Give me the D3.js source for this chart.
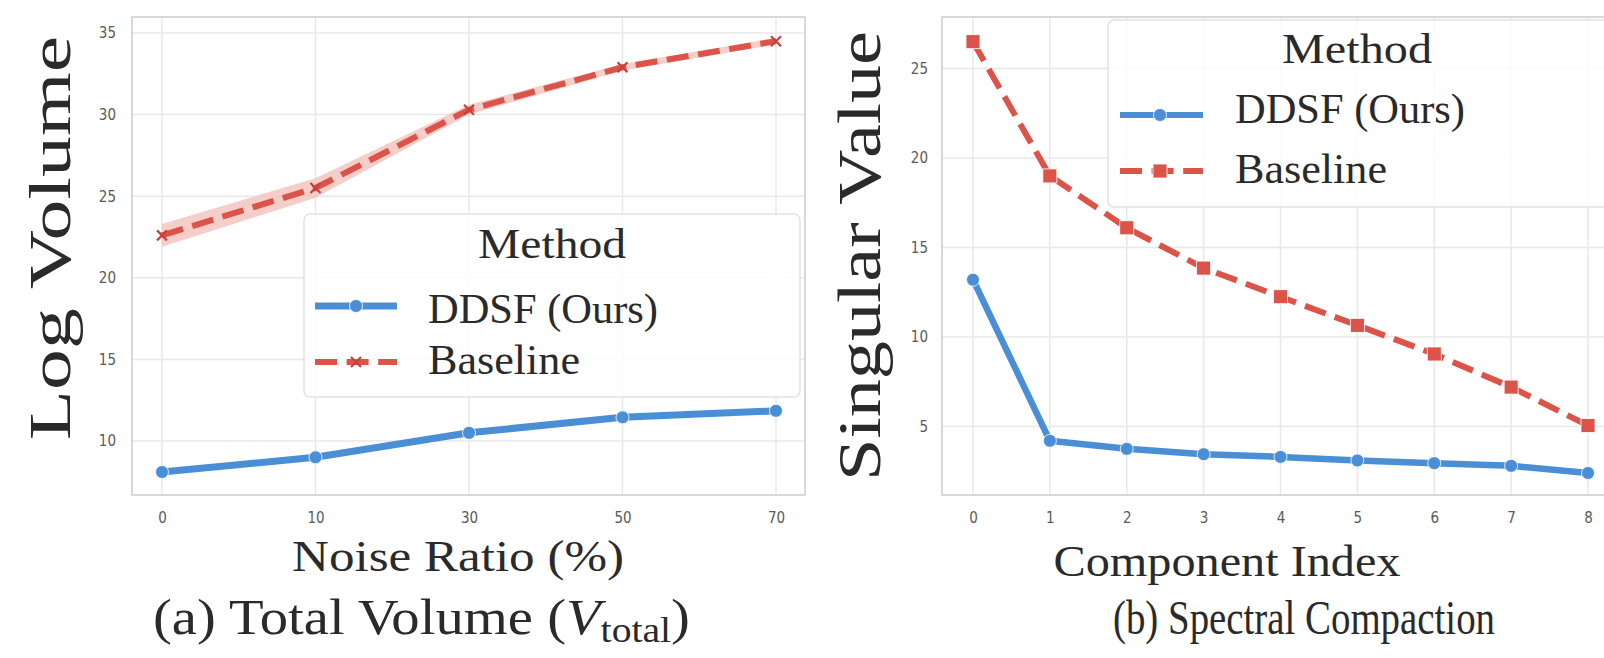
<!DOCTYPE html>
<html><head><meta charset="utf-8">
<script src="https://cdn.jsdelivr.net/npm/d3@7"></script>
<style>
html,body{margin:0;padding:0;background:#fff;}
svg{display:block;}
.tick text{font-family:'Liberation Sans Narrow','DejaVu Sans Condensed','Liberation Sans',sans-serif;fill:#5a5a5a;font-size:15px;}
.serif{font-family:'Liberation Serif','Times New Roman',serif;fill:#2a2a2a;}
</style></head>
<body>
<svg id="c" width="1604" height="658"></svg>
<script>
// ---------- data ----------
const noiseCats = ["0", "10", "30", "50", "70"];
const volDDSF   = [8.1, 9.0, 10.5, 11.45, 11.85];
const volBase   = [22.6, 25.5, 30.3, 32.9, 34.5];
const volBaseLo = [21.9, 24.9, 30.0, 32.7, 34.3];
const volBaseHi = [23.3, 26.1, 30.6, 33.1, 34.7];
const volDDSFLo = [7.95, 8.85, 10.35, 11.3, 11.7];
const volDDSFHi = [8.25, 9.15, 10.65, 11.6, 12.0];
const volYTicks = [10, 15, 20, 25, 30, 35];

const compIdx = [0, 1, 2, 3, 4, 5, 6, 7, 8];
const svDDSF  = [13.2, 4.2, 3.75, 3.45, 3.3, 3.1, 2.95, 2.8, 2.4];
const svBase  = [26.5, 19.0, 16.1, 13.85, 12.25, 10.65, 9.05, 7.2, 5.05];
const svYTicks = [5, 10, 15, 20, 25];

const seriesNames = ["DDSF (Ours)", "Baseline"];
const legendTitle = "Method";

// ---------- styles ----------
const BLUE = "#4a8fd6", RED = "#dc5349", BAND_RED = "#f3c0bb", BAND_BLUE = "#cfe0f3";
const GRID = "#e8e8e8", FRAME = "#cfcfcf";
const svg = d3.select("#c");

function frame(g, x0, x1, y0, y1) {
  g.append("rect").attr("x", x0).attr("y", y0).attr("width", x1 - x0).attr("height", y1 - y0)
    .attr("fill", "none").attr("stroke", FRAME).attr("stroke-width", 1.6);
}
function styleAxis(sel) { sel.select(".domain").remove(); sel.selectAll("line").remove(); }

// ================= Panel (a) =================
{
  const L = 132, R = 805, T = 17, B = 495;
  const x = d3.scalePoint().domain(noiseCats).range([162, 776]);
  const y = d3.scaleLinear().domain([6.69, 35.98]).range([B, T]);
  const g = svg.append("g");
  g.append("g").selectAll("line.h").data(volYTicks).join("line")
    .attr("x1", L).attr("x2", R).attr("y1", d => y(d)).attr("y2", d => y(d))
    .attr("stroke", GRID).attr("stroke-width", 1.5);
  g.append("g").selectAll("line.v").data(noiseCats).join("line")
    .attr("x1", d => x(d)).attr("x2", d => x(d)).attr("y1", T).attr("y2", B)
    .attr("stroke", GRID).attr("stroke-width", 1.5);
  frame(g, L, R, T, B);
  g.append("g").attr("transform", `translate(0,${B})`)
    .call(d3.axisBottom(x).tickSize(0).tickPadding(17)).call(styleAxis);
  g.append("g").attr("transform", `translate(${L},0)`)
    .call(d3.axisLeft(y).tickValues(volYTicks).tickSize(0).tickPadding(16)).call(styleAxis);
  const area = d3.area().x((d, i) => x(noiseCats[i])).curve(d3.curveLinear);
  g.append("path").datum(volBaseLo)
    .attr("d", area.y0((d, i) => y(volBaseLo[i])).y1((d, i) => y(volBaseHi[i])))
    .attr("fill", BAND_RED).attr("opacity", 0.8);
  g.append("path").datum(volDDSFLo)
    .attr("d", area.y0((d, i) => y(volDDSFLo[i])).y1((d, i) => y(volDDSFHi[i])))
    .attr("fill", BAND_BLUE).attr("opacity", 0.8);
  const line = d3.line().x((d, i) => x(noiseCats[i])).y(d => y(d));
  g.append("path").datum(volBase).attr("d", line).attr("fill", "none")
    .attr("stroke", RED).attr("stroke-width", 6).attr("stroke-dasharray", "22,9.6");
  g.append("path").datum(volDDSF).attr("d", line).attr("fill", "none")
    .attr("stroke", BLUE).attr("stroke-width", 7).attr("stroke-linejoin", "round");
  g.append("g").selectAll("circle").data(volDDSF).join("circle")
    .attr("cx", (d, i) => x(noiseCats[i])).attr("cy", d => y(d)).attr("r", 6.5)
    .attr("fill", BLUE).attr("stroke", "#fff").attr("stroke-width", 0.8);
  g.append("g").selectAll("path.x").data(volBase).join("path")
    .attr("d", (d, i) => { const cx = x(noiseCats[i]), cy = y(d), s = 5;
      return `M${cx-s},${cy-s}L${cx+s},${cy+s}M${cx-s},${cy+s}L${cx+s},${cy-s}`; })
    .attr("stroke", "#c8403a").attr("stroke-width", 2.2);
  // legend
  const lg = g.append("g");
  lg.append("rect").attr("x", 304).attr("y", 214).attr("width", 496).attr("height", 183).attr("rx", 6)
    .attr("fill", "#fff").attr("fill-opacity", 0.82).attr("stroke", "#e2e2e2").attr("stroke-width", 1.5);
  lg.append("text").attr("class", "serif").attr("x", 552).attr("y", 258).attr("text-anchor", "middle")
    .attr("font-size", 43).attr("textLength", 148).attr("lengthAdjust", "spacingAndGlyphs").text(legendTitle);
  const ly = [306, 362], lt = [323, 374], lw = [230, 152];
  seriesNames.forEach((n, i) => {
    lg.append("line").attr("x1", 315).attr("x2", 397).attr("y1", ly[i]).attr("y2", ly[i])
      .attr("stroke", i ? RED : BLUE).attr("stroke-width", i ? 6 : 7)
      .attr("stroke-dasharray", i ? "22,9.6" : null);
    if (i === 0) lg.append("circle").attr("cx", 356).attr("cy", ly[i]).attr("r", 6.5).attr("fill", BLUE)
      .attr("stroke", "#fff").attr("stroke-width", 0.8);
    else lg.append("path").attr("d", `M351,${ly[i]-5}L361,${ly[i]+5}M351,${ly[i]+5}L361,${ly[i]-5}`)
      .attr("stroke", "#c8403a").attr("stroke-width", 2.2);
    lg.append("text").attr("class", "serif").attr("x", 428).attr("y", lt[i]).attr("font-size", 43)
      .attr("textLength", lw[i]).attr("lengthAdjust", "spacingAndGlyphs").text(n);
  });
  g.append("text").attr("class", "serif").attr("transform", "translate(70,238) rotate(-90)")
    .attr("text-anchor", "middle").attr("font-size", 60).attr("textLength", 404)
    .attr("lengthAdjust", "spacingAndGlyphs").text("Log Volume");
  g.append("text").attr("class", "serif").attr("x", 458).attr("y", 571).attr("text-anchor", "middle")
    .attr("font-size", 44).attr("textLength", 332).attr("lengthAdjust", "spacingAndGlyphs").text("Noise Ratio (%)");
  const cap = g.append("text").attr("class", "serif").attr("x", 153).attr("y", 634).attr("font-size", 50)
    .attr("textLength", 537).attr("lengthAdjust", "spacingAndGlyphs");
  cap.append("tspan").text("(a) Total Volume (");
  cap.append("tspan").attr("font-style", "italic").text("V");
  cap.append("tspan").attr("font-size", 35).attr("dy", 8).text("total");
  cap.append("tspan").attr("dy", -8).text(")");
}

// ================= Panel (b) =================
{
  const L = 942, R = 1620, T = 17, B = 495;
  const x = d3.scaleLinear().domain([0, 8]).range([973, 1588]);
  const y = d3.scaleLinear().domain([1.17, 27.88]).range([B, T]);
  const g = svg.append("g");
  g.append("g").selectAll("line").data(svYTicks).join("line")
    .attr("x1", L).attr("x2", R).attr("y1", d => y(d)).attr("y2", d => y(d))
    .attr("stroke", GRID).attr("stroke-width", 1.5);
  g.append("g").selectAll("line").data(compIdx).join("line")
    .attr("x1", d => x(d)).attr("x2", d => x(d)).attr("y1", T).attr("y2", B)
    .attr("stroke", GRID).attr("stroke-width", 1.5);
  frame(g, L, R, T, B);
  g.append("g").attr("transform", `translate(0,${B})`)
    .call(d3.axisBottom(x).tickValues(compIdx).tickFormat(d3.format("d")).tickSize(0).tickPadding(17)).call(styleAxis);
  g.append("g").attr("transform", `translate(${L},0)`)
    .call(d3.axisLeft(y).tickValues(svYTicks).tickSize(0).tickPadding(14)).call(styleAxis);
  const line = d3.line().x((d, i) => x(compIdx[i])).y(d => y(d));
  g.append("path").datum(svBase).attr("d", line).attr("fill", "none")
    .attr("stroke", RED).attr("stroke-width", 6).attr("stroke-dasharray", "22,9.6");
  g.append("path").datum(svDDSF).attr("d", line).attr("fill", "none")
    .attr("stroke", BLUE).attr("stroke-width", 6.5).attr("stroke-linejoin", "round");
  g.append("g").selectAll("rect").data(svBase).join("rect")
    .attr("x", (d, i) => x(compIdx[i]) - 7).attr("y", d => y(d) - 7).attr("width", 14).attr("height", 14)
    .attr("fill", RED).attr("stroke", "#fff").attr("stroke-width", 0.8);
  g.append("g").selectAll("circle").data(svDDSF).join("circle")
    .attr("cx", (d, i) => x(compIdx[i])).attr("cy", d => y(d)).attr("r", 6.5)
    .attr("fill", BLUE).attr("stroke", "#fff").attr("stroke-width", 0.8);
  const lg = g.append("g");
  lg.append("rect").attr("x", 1108).attr("y", 20).attr("width", 520).attr("height", 187).attr("rx", 6)
    .attr("fill", "#fff").attr("fill-opacity", 0.82).attr("stroke", "#e2e2e2").attr("stroke-width", 1.5);
  lg.append("text").attr("class", "serif").attr("x", 1357).attr("y", 63).attr("text-anchor", "middle")
    .attr("font-size", 43).attr("textLength", 150).attr("lengthAdjust", "spacingAndGlyphs").text(legendTitle);
  const ly = [115, 171], lt = [123, 183], lw = [230, 152];
  seriesNames.forEach((n, i) => {
    lg.append("line").attr("x1", 1120).attr("x2", 1203).attr("y1", ly[i]).attr("y2", ly[i])
      .attr("stroke", i ? RED : BLUE).attr("stroke-width", 6)
      .attr("stroke-dasharray", i ? "22,9.6" : null);
    if (i === 0) lg.append("circle").attr("cx", 1160).attr("cy", ly[i]).attr("r", 6.5).attr("fill", BLUE)
      .attr("stroke", "#fff").attr("stroke-width", 0.8);
    else lg.append("rect").attr("x", 1153).attr("y", ly[i] - 7).attr("width", 14).attr("height", 14)
      .attr("fill", RED).attr("stroke", "#fff").attr("stroke-width", 0.8);
    lg.append("text").attr("class", "serif").attr("x", 1235).attr("y", lt[i]).attr("font-size", 43)
      .attr("textLength", lw[i]).attr("lengthAdjust", "spacingAndGlyphs").text(n);
  });
  g.append("text").attr("class", "serif").attr("transform", "translate(880,256) rotate(-90)")
    .attr("text-anchor", "middle").attr("font-size", 62).attr("textLength", 450)
    .attr("lengthAdjust", "spacingAndGlyphs").text("Singular Value");
  g.append("text").attr("class", "serif").attr("x", 1227).attr("y", 576).attr("text-anchor", "middle")
    .attr("font-size", 44).attr("textLength", 347).attr("lengthAdjust", "spacingAndGlyphs").text("Component Index");
  g.append("text").attr("class", "serif").attr("x", 1304).attr("y", 634).attr("text-anchor", "middle")
    .attr("font-size", 48).attr("textLength", 382).attr("lengthAdjust", "spacingAndGlyphs")
    .text("(b) Spectral Compaction");
}
</script>
</body></html>
